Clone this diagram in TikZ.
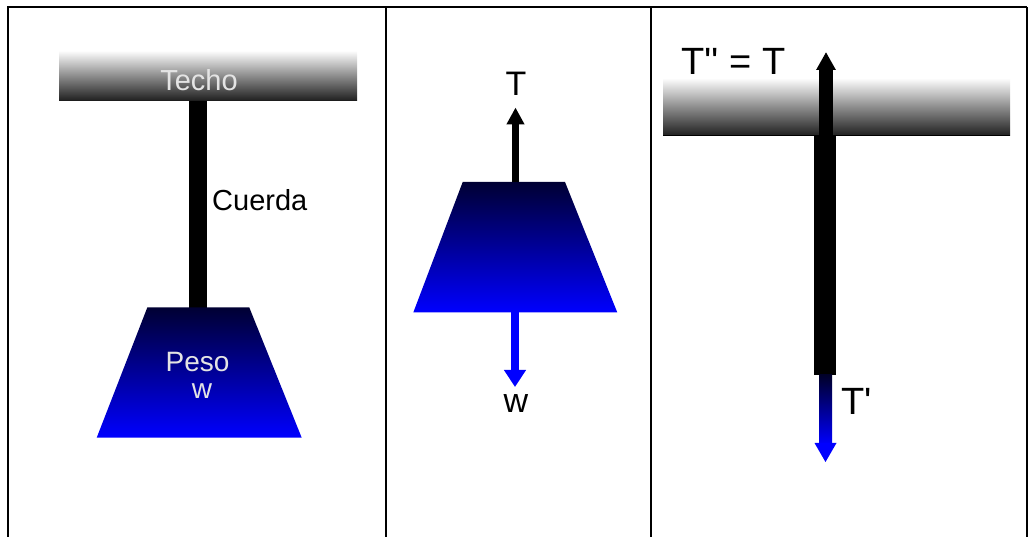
\documentclass[tikz,border=0pt]{standalone}
\usepackage{fontspec}
\setmainfont{Liberation Sans}[Ligatures=TeXOff]
\usetikzlibrary{arrows.meta}
\definecolor{navy}{RGB}{0,0,51}
\definecolor{pblue}{RGB}{0,0,255}
\definecolor{lgray}{RGB}{228,228,228}
\definecolor{barbot}{RGB}{30,30,30}
\begin{document}
\begin{tikzpicture}[x=1pt,y=-1pt,
  lbl/.style={inner sep=0pt,anchor=base},
  fA/.style={font=\fontsize{29}{31}\selectfont},
  fB/.style={font=\fontsize{34}{36}\selectfont},
  fC/.style={font=\fontsize{38}{40}\selectfont},
  frame/.style={line width=2pt,black},
  ceiling/.style={top color=white,bottom color=barbot,middle color=black!45},
  weight/.style={top color=navy,bottom color=pblue},
  upT/.style={line width=7.5pt,-{Triangle[width=17pt,length=17pt]}},
  downW/.style={draw=pblue,line width=8pt,-{Triangle[width=21pt,length=17pt]}},
  upT3/.style={line width=14pt,-{Triangle[width=18.5pt,length=18pt]}}]
\useasboundingbox (0,0) rectangle (1029,537);
% frame
\draw[frame] (8,537) -- (8,7) -- (1027,7);
\draw[frame] (386,7) -- (386,537);
\draw[frame] (650.5,7) -- (650.5,537);
\draw[frame] (1026.5,7) -- (1026.5,537);

% ---------- panel 1
\shade[ceiling] (59,50.5) rectangle (357,101);
\draw[barbot,line width=1pt] (59,100.5) -- (357,100.5);
\fill[black] (189.3,101) rectangle (206.7,308);
\shade[weight] (147.3,307.5) -- (249.3,307.5) -- (301.7,437.7) -- (96.7,437.7) -- cycle;
\node[lbl,fA,text=lgray] (techo) at (199,90.8) {Techo};
\node[lbl,fA,anchor=base west] (cuerda) at (212,210.6) {Cuerda};
\node[lbl,font=\fontsize{28}{30}\selectfont,text=lgray] (peso) at (197.5,371.6) {Peso};
\node[lbl,font=\fontsize{28}{30}\selectfont,text=lgray] (w1) at (202,399) {w};

% ---------- panel 2
\shade[weight] (462.7,182) -- (565,182) -- (617.3,312.5) -- (413.3,312.5) -- cycle;
\coordinate (top2) at (515.5,182.5);
\coordinate (tip2) at (515.5,107.5);
\coordinate (bot2) at (515,312);
\coordinate (tipw) at (515,387);
\draw[upT] (top2) -- (tip2);
\draw[downW] (bot2) -- (tipw);
\node[lbl,fB] (T2) at (516,96) {T};
\node[lbl,fB] (w2) at (516,413) {w};

% ---------- panel 3
\shade[ceiling] (663,78) rectangle (1010,136);
\draw[black,line width=1pt] (663,135.5) -- (1010,135.5);
\coordinate (ropetop) at (826,137);
\coordinate (tip3) at (826,52);
\draw[upT3] (ropetop) -- (tip3);
\fill[black] (814,136) rectangle (836,375);
\shade[top color=navy!80!black,bottom color=pblue] (819.5,375) rectangle (832,445);
\coordinate (hl) at (814.5,443);
\coordinate (hr) at (836.5,443);
\coordinate (tip4) at (825.5,462);
\fill[pblue] (hl) -- (hr) -- (tip4) -- cycle;
\node[lbl,fC,anchor=base west] (Tpp) at (681,75) {T'' = T};
\node[lbl,fC,anchor=base west] (Tp) at (841,415) {T'};
\end{tikzpicture}
\end{document}
